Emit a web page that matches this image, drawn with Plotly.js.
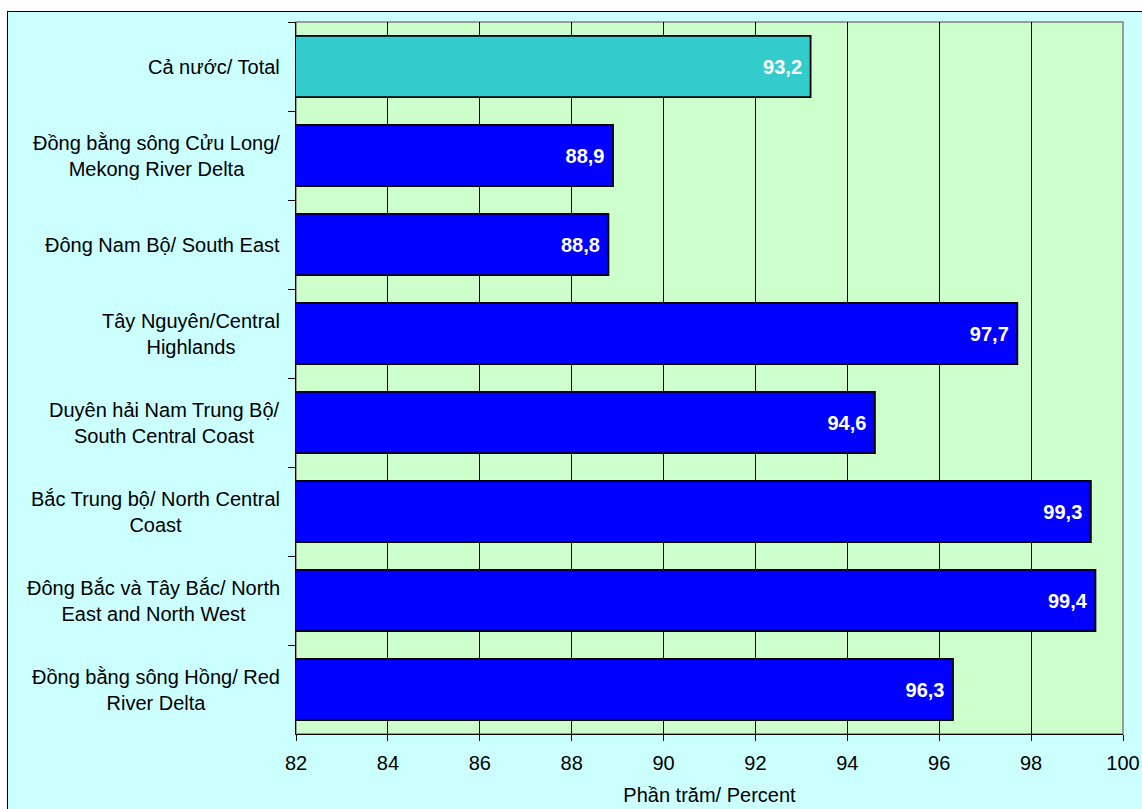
<!DOCTYPE html>
<html>
<head>
<meta charset="utf-8">
<script src="https://cdn.plot.ly/plotly-3.0.1.min.js"></script>
<style>
  html, body { margin: 0; padding: 0; background: #ffffff; }
  #frame { position: absolute; left: 7px; top: 11px; width: 1140px; height: 800px;
           border-left: 1px solid #000; border-top: 1px solid #000; background: #CCFFFF; }
  #plot { position: absolute; left: 0; top: 0; width: 1142px; height: 809px; }
</style>
</head>
<body>
<div id="frame"></div>
<div id="plot"></div>
<script>
// Categories, top to bottom
const categories = [
  "Cả nước/ Total",
  "Đồng bằng sông Cửu Long/<br>Mekong River Delta",
  "Đông Nam Bộ/ South East",
  "Tây Nguyên/Central<br>Highlands",
  "Duyên hải Nam Trung Bộ/<br>South Central Coast",
  "Bắc Trung bộ/ North Central<br>Coast",
  "Đông Bắc và Tây Bắc/ North<br>East and North West",
  "Đồng bằng sông Hồng/ Red<br>River Delta"
];
const percent = [93.2, 88.9, 88.8, 97.7, 94.6, 99.3, 99.4, 96.3];
const xTicks = [82, 84, 86, 88, 90, 92, 94, 96, 98, 100];
const xTitle = "Phần trăm/ Percent";

const barColors = categories.map((c, i) => i === 0 ? "#33CCCC" : "#0000FF");
const labels = percent.map(v => v.toFixed(1).replace(".", ",") + "\u00a0");

const FONT = "Liberation Sans, Arial, sans-serif";

const trace = {
  type: "bar",
  orientation: "h",
  y: categories,
  x: percent,
  base: 0,
  marker: { color: barColors, line: { color: "#000000", width: 1.8 } },
  text: labels,
  textposition: "inside",
  insidetextanchor: "end",
  textfont: { family: FONT, size: 20, color: "#ffffff", weight: "bold" },
  cliponaxis: true,
  hoverinfo: "x+y"
};

const annotations = categories.map(c => ({
  xref: "paper", yref: "y",
  x: 0, y: c,
  xanchor: "right", yanchor: "middle",
  xshift: -14,
  text: c,
  align: "center",
  showarrow: false,
  font: { family: FONT, size: 20, color: "#000000" }
}));

const layout = {
  width: 1142, height: 809,
  margin: { l: 296, r: 19, t: 22, b: 75, pad: 0 },
  paper_bgcolor: "rgba(0,0,0,0)",
  plot_bgcolor: "#CCFFCC",
  bargap: 0.31,
  showlegend: false,
  font: { family: FONT, size: 20, color: "#000000" },
  xaxis: {
    range: [82, 100],
    tickvals: xTicks,
    ticktext: xTicks.map(String),
    ticks: "outside", ticklen: 6, tickcolor: "#000000", tickwidth: 1,
    ticklabelstandoff: 5,
    showgrid: true, gridcolor: "#000000", gridwidth: 1,
    showline: true, linecolor: "#000000", linewidth: 1,
    zeroline: false,
    tickfont: { family: FONT, size: 20, color: "#000000" },
    title: { text: xTitle, font: { family: FONT, size: 20, color: "#000000" }, standoff: 14 }
  },
  yaxis: {
    type: "category",
    autorange: "reversed",
    showticklabels: false,
    ticks: "outside", ticklen: 7, tickcolor: "#000000", tickson: "boundaries",
    showgrid: false,
    showline: true, linecolor: "#000000", linewidth: 1,
    zeroline: false
  },
  shapes: [{
    type: "rect", xref: "paper", yref: "paper", x0: 0, x1: 1, y0: 0, y1: 1,
    line: { color: "#808080", width: 1.5 }, fillcolor: "rgba(0,0,0,0)", layer: "below"
  }],
  annotations: annotations
};

Plotly.newPlot("plot", [trace], layout, { displayModeBar: false, staticPlot: true });
</script>
</body>
</html>
